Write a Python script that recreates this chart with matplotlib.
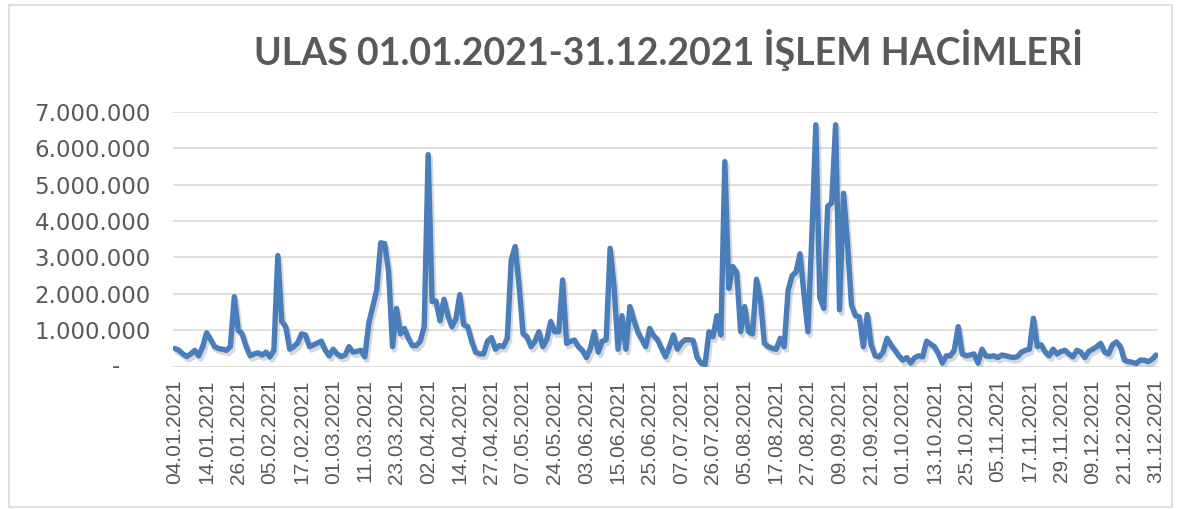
import matplotlib
matplotlib.use("Agg")
import matplotlib.pyplot as plt
import matplotlib.patheffects as pe
from matplotlib.patches import Rectangle
import matplotlib.transforms as mtransforms

title = "ULAS 01.01.2021-31.12.2021 İŞLEM HACİMLERİ"

tick_labels = [
    "04.01.2021", "14.01.2021", "26.01.2021", "05.02.2021", "17.02.2021",
    "01.03.2021", "11.03.2021", "23.03.2021", "02.04.2021", "14.04.2021",
    "27.04.2021", "07.05.2021", "24.05.2021", "03.06.2021", "15.06.2021",
    "25.06.2021", "07.07.2021", "26.07.2021", "05.08.2021", "17.08.2021",
    "27.08.2021", "09.09.2021", "21.09.2021", "01.10.2021", "13.10.2021",
    "25.10.2021", "05.11.2021", "17.11.2021", "29.11.2021", "09.12.2021",
    "21.12.2021", "31.12.2021",
]
label_step = 8

# daily volume, millions (one value per trading day)
volume_m = [
    0.50, 0.45, 0.35, 0.28, 0.35, 0.45, 0.30, 0.55, 0.93, 0.75,
    0.55, 0.50, 0.48, 0.45, 0.55, 1.92, 1.00, 0.90, 0.55, 0.30,
    0.35, 0.38, 0.32, 0.40, 0.27, 0.45, 3.05, 1.24, 1.10, 0.48,
    0.55, 0.65, 0.90, 0.87, 0.55, 0.60, 0.65, 0.70, 0.45, 0.30,
    0.48, 0.35, 0.28, 0.32, 0.55, 0.40, 0.42, 0.45, 0.27, 1.20,
    1.65, 2.10, 3.40, 3.38, 2.60, 0.55, 1.60, 0.90, 1.05, 0.78,
    0.58, 0.58, 0.70, 1.10, 5.82, 1.79, 1.80, 1.26, 1.85, 1.40,
    1.10, 1.30, 1.98, 1.15, 1.10, 0.70, 0.40, 0.35, 0.35, 0.70,
    0.80, 0.48, 0.58, 0.55, 0.78, 2.93, 3.30, 2.20, 0.90, 0.82,
    0.55, 0.70, 0.96, 0.55, 0.75, 1.24, 0.96, 0.96, 2.38, 0.64,
    0.70, 0.73, 0.55, 0.45, 0.25, 0.50, 0.96, 0.40, 0.70, 0.74,
    3.25, 2.20, 0.48, 1.40, 0.48, 1.65, 1.28, 0.95, 0.75, 0.55,
    1.05, 0.85, 0.74, 0.50, 0.27, 0.55, 0.87, 0.48, 0.65, 0.74,
    0.74, 0.72, 0.25, 0.10, 0.06, 0.96, 0.82, 1.40, 0.87, 5.63,
    2.15, 2.75, 2.60, 0.96, 1.65, 0.96, 0.90, 2.40, 1.85, 0.64,
    0.55, 0.50, 0.48, 0.78, 0.55, 2.10, 2.50, 2.60, 3.10, 2.00,
    0.96, 3.60, 6.64, 1.90, 1.60, 4.40, 4.50, 6.64, 1.56, 4.76,
    3.40, 1.70, 1.40, 1.37, 0.55, 1.43, 0.60, 0.30, 0.27, 0.40,
    0.78, 0.60, 0.45, 0.30, 0.18, 0.25, 0.10, 0.25, 0.30, 0.27,
    0.70, 0.62, 0.55, 0.35, 0.10, 0.30, 0.30, 0.45, 1.10, 0.35,
    0.30, 0.32, 0.35, 0.10, 0.48, 0.30, 0.28, 0.30, 0.25, 0.32,
    0.30, 0.27, 0.25, 0.28, 0.40, 0.45, 0.48, 1.33, 0.55, 0.60,
    0.40, 0.30, 0.48, 0.35, 0.42, 0.45, 0.35, 0.27, 0.45, 0.40,
    0.25, 0.42, 0.48, 0.55, 0.64, 0.40, 0.35, 0.60, 0.68, 0.55,
    0.18, 0.14, 0.12, 0.09, 0.18, 0.18, 0.14, 0.20, 0.32,
]
volume = [v * 1e6 for v in volume_m]
y_ticks = [0, 1e6, 2e6, 3e6, 4e6, 5e6, 6e6, 7e6]

W, H = 1180, 509
fig = plt.figure(figsize=(W / 100, H / 100), dpi=100)
fig.patch.set_facecolor("white")

# chart border
fig.patches.append(Rectangle((9 / W, 2 / H), (1172 - 9) / W, (504 - 2) / H,
                             transform=fig.transFigure, fill=False,
                             edgecolor="#D9D9D9", linewidth=1.2))

left, right, top, bottom = 173, 1158, 111.7, 366.7
ax = fig.add_axes([left / W, 1 - bottom / H, (right - left) / W, (bottom - top) / H])

x = list(range(len(volume)))
ax.plot(x, volume, color="#4A7EBB", linewidth=3.9, solid_joinstyle="round",
        solid_capstyle="round", zorder=3,
        path_effects=[pe.SimpleLineShadow(offset=(1.5, -2.5), shadow_color="gray", alpha=0.3),
                      pe.Normal()])

ax.set_xlim(-0.5, len(volume) - 0.5)
ax.set_ylim(0, 7e6)
for s in ax.spines.values():
    s.set_visible(False)

ax.set_yticks(y_ticks)
ax.set_yticklabels([("" if v == 0 else f"{int(v):,}".replace(",", ".")) for v in y_ticks])
ax.grid(axis="y", color="#D9D9D9", linewidth=1.2, zorder=0)
ax.set_axisbelow(True)

xt = list(range(0, len(volume), label_step))
ax.set_xticks(xt)
ax.set_xticklabels(tick_labels[:len(xt)], rotation=90)

ax.tick_params(axis="both", length=0, colors="#595959")
ax.tick_params(axis="y", pad=16, labelsize=16.5)
ax.tick_params(axis="x", pad=9, labelsize=15)
for lbl in ax.get_xticklabels():
    lbl.set_fontfamily(["Liberation Sans", "DejaVu Sans"])
for lbl in ax.get_yticklabels():
    lbl.set_fontfamily(["DejaVu Sans"])

# zero label shown as dash (accounting format)
ax.text(-57 / (right - left), 0, "-", transform=mtransforms.blended_transform_factory(ax.transAxes, ax.transData),
        ha="center", va="center", color="#595959", fontsize=16.5, family=["DejaVu Sans"])

fig.text(668 / W, 1 - 50 / H, title, ha="center", va="center", color="#595959",
         fontsize=27, fontweight="bold", family=["Lato", "DejaVu Sans"])

fig.savefig("out.png", dpi=100)
